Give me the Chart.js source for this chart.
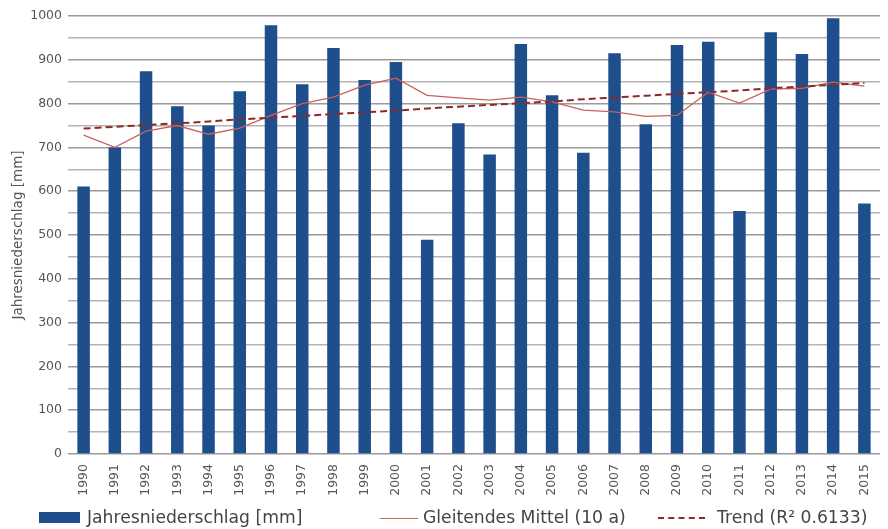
<!DOCTYPE html>
<html><head><meta charset="utf-8">
<script src="https://cdn.jsdelivr.net/npm/chart.js@4/dist/chart.umd.min.js"></script>
<style>
html,body{margin:0;padding:0;background:#fff;}
#wrap{position:relative;width:888px;height:529px;}
#c{position:absolute;left:0;top:0;}
.lg{position:absolute;top:506px;font-family:"DejaVu Sans",Verdana,sans-serif;font-size:17.2px;color:#444;white-space:nowrap;line-height:22px;}
</style></head>
<body><div id="wrap"><canvas id="c" width="888" height="529"></canvas>
<div class="lg" style="left:39px;"><span style="display:inline-block;width:41px;height:11px;background:#1F4E8C;vertical-align:middle;margin-right:7px;position:relative;top:-1px"></span>Jahresniederschlag [mm]</div>
<div class="lg" style="left:380px;"><span style="display:inline-block;width:38px;height:0;border-top:1px solid #C9625C;vertical-align:middle;margin-right:5px;"></span>Gleitendes Mittel (10 a)</div>
<div class="lg" style="left:658px;"><span style="display:inline-block;width:47px;height:0;border-top:2px dashed #8C2A2A;vertical-align:middle;margin-right:12px;"></span>Trend (R² 0.6133)</div>
</div>
<script>
const years = ["1990","1991","1992","1993","1994","1995","1996","1997","1998","1999","2000","2001","2002","2003","2004","2005","2006","2007","2008","2009","2010","2011","2012","2013","2014","2015"];
const precipitation = [611,700,874,794,750,828,979,844,927,854,895,489,755,684,936,819,688,915,753,934,941,555,963,913,995,572];
const movingAverage = [728,700,737,750,730,744,773,800,815,842,858,819,813,808,815,804,785,781,771,773,826,801,833,835,849,840];
const trend = [743,747,751,755,759,764,768,772,776,780,784,789,793,797,801,805,810,814,818,822,826,830,835,839,843,847];
const yTicks = [0,100,200,300,400,500,600,700,800,900,1000];

const FONT = '"DejaVu Sans", Verdana, sans-serif';
new Chart(document.getElementById('c'), {
  data: {
    labels: years,
    datasets: [
      {type:'line', label:'Trend (R² 0.6133)', data:trend, borderColor:'#8C2A2A', borderWidth:2, borderDash:[7,4], pointRadius:0, tension:0, order:0},
      {type:'line', label:'Gleitendes Mittel (10 a)', data:movingAverage, borderColor:'#C9625C', borderWidth:1.3, pointRadius:0, tension:0, order:1},
      {type:'bar', label:'Jahresniederschlag [mm]', data:precipitation, backgroundColor:'#1F4E8C', barPercentage:0.4, categoryPercentage:1.0, order:2}
    ]
  },
  options: {
    responsive:false, animation:false,
    layout:{padding:{top:16, right:8, bottom:31, left:0}},
    plugins:{legend:{display:false}, tooltip:{enabled:false}},
    scales:{
      x:{
        grid:{display:false},
        border:{display:false},
        ticks:{maxRotation:90, minRotation:90, autoSkip:false, color:'#555', font:{family:FONT, size:12.5}, padding:2},
        afterFit(s){ s.height = 44; }
      },
      y:{
        min:0, max:1000,
        afterBuildTicks(s){ const t=[]; for(const v of yTicks){ t.push({value:v}); if(v<1000) t.push({value:v+50}); } s.ticks=t; },
        ticks:{color:'#555', font:{family:FONT, size:12.5}, padding:6,
          callback(v){ return yTicks.includes(v) ? String(v) : ''; }},
        grid:{color(ctx){ return ctx.tick && ctx.tick.value % 100 === 0 ? '#9a9a9a' : '#b4b4b4'; }, lineWidth:1.5, drawTicks:false},
        border:{display:false},
        title:{display:true, text:'Jahresniederschlag [mm]', color:'#555', font:{family:FONT, size:13.5}, padding:{top:10,bottom:4}},
        afterFit(s){ s.width = 68; }
      }
    }
  }
});
</script></body></html>
